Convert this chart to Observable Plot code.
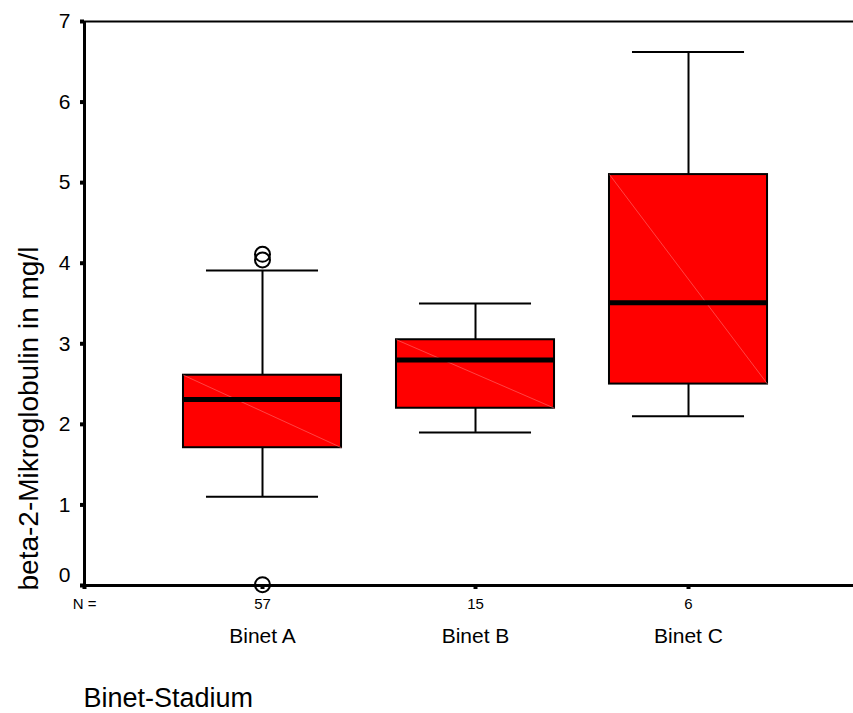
<!DOCTYPE html>
<html>
<head>
<meta charset="utf-8">
<script src="https://cdn.jsdelivr.net/npm/d3@7"></script>
<script src="https://cdn.jsdelivr.net/npm/@observablehq/plot@0.6"></script>
<style>
  html, body { margin: 0; padding: 0; background: #fff; }
</style>
</head>
<body>
<div id="chart"></div>
<script>
// ---- data ----
const categories = ["Binet A", "Binet B", "Binet C"];
const nValues = [57, 15, 6];
const whiskerLow = [1.10, 1.90, 2.10];
const q1 = [1.71, 2.20, 2.50];
const median = [2.31, 2.80, 3.51];
const q3 = [2.61, 3.05, 5.10];
const whiskerHigh = [3.91, 3.50, 6.62];
const outlierCategory = ["Binet A", "Binet A", "Binet A"];
const outlierValue = [4.11, 4.04, 0.01];
const yTicks = [0, 1, 2, 3, 4, 5, 6, 7];
const yLabel = "beta-2-Mikroglobulin in mg/l";
const xLabel = "Binet-Stadium";
const nLabel = "N =";

// ---- build tables ----
const boxes = categories.map((c, i) => ({
  cat: c, pos: i + 1, n: nValues[i],
  lo: whiskerLow[i], q1: q1[i], med: median[i], q3: q3[i], hi: whiskerHigh[i]
}));
const outliers = outlierCategory.map((c, i) => ({pos: categories.indexOf(c) + 1, v: outlierValue[i]}));

const xMin = 0.1643, xMax = 3.7746;
const boxHalf = 0.371, capHalf = 0.263;
const font = "'Liberation Sans', Arial, Helvetica, sans-serif";

const chart = Plot.plot({
  width: 853,
  height: 713,
  marginLeft: 84,
  marginRight: 0,
  marginTop: 21,
  marginBottom: 128,
  style: {fontFamily: font, background: "#fff", color: "#000"},
  x: {type: "linear", domain: [xMin, xMax]},
  y: {domain: [0, 7]},
  marks: [
    // whiskers
    Plot.ruleX(boxes, {x: "pos", y1: "q3", y2: "hi", stroke: "#000", strokeWidth: 2}),
    Plot.ruleX(boxes, {x: "pos", y1: "lo", y2: "q1", stroke: "#000", strokeWidth: 2}),
    Plot.ruleY(boxes, {y: "hi", x1: d => d.pos - capHalf, x2: d => d.pos + capHalf, stroke: "#000", strokeWidth: 2}),
    Plot.ruleY(boxes, {y: "lo", x1: d => d.pos - capHalf, x2: d => d.pos + capHalf, stroke: "#000", strokeWidth: 2}),
    // boxes
    Plot.rect(boxes, {x1: d => d.pos - boxHalf, x2: d => d.pos + boxHalf, y1: "q1", y2: "q3", fill: "#ff0000", stroke: "#000", strokeWidth: 2}),
    Plot.link(boxes, {x1: d => d.pos - boxHalf, y1: "q3", x2: d => d.pos + boxHalf, y2: "q1", stroke: "#ff7070", strokeWidth: 0.6}),
    Plot.ruleY(boxes, {y: "med", x1: d => d.pos - boxHalf, x2: d => d.pos + boxHalf, stroke: "#000", strokeWidth: 5}),
    // frame
    Plot.ruleY([7], {stroke: "#000", strokeWidth: 2}),
    Plot.ruleY([0], {stroke: "#000", strokeWidth: 3}),
    Plot.ruleX([xMin], {stroke: "#000", strokeWidth: 3}),
    // y axis
    Plot.axisY(yTicks, {tickSize: 4, strokeWidth: 4, tickPadding: 10, fontSize: 21, label: null,
      tickFormat: d => d === 0 ? "" : String(d)}),
    Plot.axisY([0], {tickSize: 0, tickPadding: 14, fontSize: 21, label: null, dy: -10, tickFormat: d => String(d)}),
    // x axis with N counts
    Plot.axisX([xMin, 1, 2, 3], {tickSize: 4, strokeWidth: 4, tickPadding: 9, fontSize: 15, label: null,
      tickFormat: d => d === xMin ? nLabel : String(nValues[Math.round(d) - 1])}),
    // category labels
    Plot.text(boxes, {x: "pos", text: "cat", frameAnchor: "bottom", dy: 51, lineAnchor: "middle", fontSize: 21, fill: "#000"}),
    // outliers
    Plot.dot(outliers, {x: "pos", y: "v", r: 7.5, stroke: "#000", strokeWidth: 2, fill: "none"}),
    // axis titles
    Plot.text([yLabel], {frameAnchor: "bottom-left", rotate: -90, textAnchor: "start", lineAnchor: "bottom",
      dx: -47, dy: 5, fontSize: 28, fill: "#000"}),
    Plot.text([xLabel], {frameAnchor: "bottom-left", textAnchor: "start", lineAnchor: "bottom",
      dx: -1, dy: 121, fontSize: 27, fill: "#000"})
  ]
});
document.getElementById("chart").appendChild(chart);
</script>
</body>
</html>
